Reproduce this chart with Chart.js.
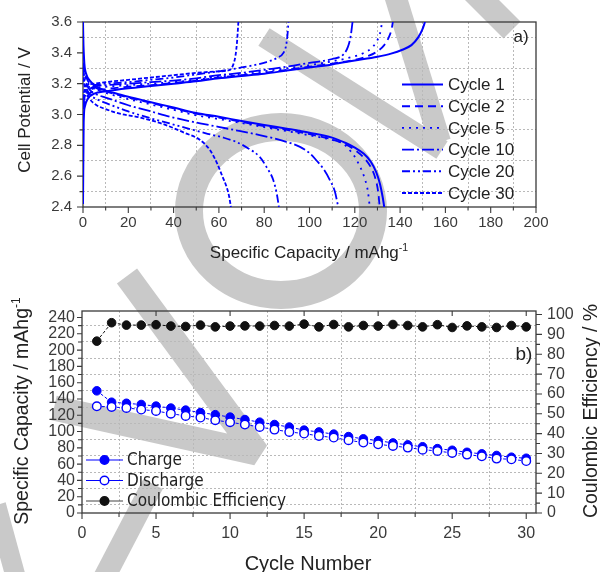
<!DOCTYPE html>
<html><head><meta charset="utf-8">
<script src="https://cdn.jsdelivr.net/npm/chart.js@4.4.0/dist/chart.umd.min.js"></script>
<style>
html,body{margin:0;padding:0;background:#fff;}
#wrap{position:relative;width:600px;height:572px;overflow:hidden;background:#fff;}
#ca{position:absolute;left:0;top:0;}
#cb{position:absolute;left:0;top:290px;}
</style></head><body>
<div id="wrap"><canvas id="ca" width="600" height="290"></canvas><canvas id="cb" width="600" height="282"></canvas></div>
<script>
// ---------- Panel a data: [specific capacity (mAh/g), cell potential (V)] ----------
const cyc1Charge = [[0,2.42],[0.3,2.95],[0.8,3.05],[2,3.1],[5,3.135],[10,3.15],[20,3.17],[30,3.185],[40,3.2],[50,3.215],[60,3.235],[70,3.25],[80,3.265],[90,3.285],[100,3.305],[110,3.325],[120,3.35],[130,3.375],[136,3.395],[141,3.42],[145,3.45],[148,3.5],[149.8,3.55],[151,3.6]];
const cyc1Discharge = [[0,3.6],[0.2,3.45],[0.6,3.33],[1.5,3.26],[3,3.22],[6,3.18],[10,3.155],[15,3.135],[20,3.115],[30,3.08],[40,3.045],[50,3.01],[60,2.985],[70,2.958],[80,2.932],[90,2.908],[100,2.882],[110,2.85],[116,2.815],[120,2.785],[124,2.745],[127,2.695],[129.5,2.625],[131.2,2.545],[132.3,2.465],[133,2.4]];
const cyc2Charge = [[0,2.95],[0.5,3.05],[2,3.12],[5,3.15],[10,3.165],[20,3.18],[30,3.19],[40,3.205],[50,3.22],[60,3.24],[70,3.255],[80,3.27],[90,3.29],[100,3.31],[110,3.33],[120,3.355],[126,3.38],[130,3.41],[133,3.45],[135,3.5],[136.2,3.55],[136.8,3.6]];
const cyc2Discharge = [[0,3.42],[0.5,3.3],[1.5,3.24],[3,3.2],[6,3.17],[10,3.15],[20,3.11],[30,3.075],[40,3.04],[50,3.005],[60,2.98],[70,2.952],[80,2.925],[90,2.9],[100,2.872],[110,2.838],[116,2.805],[120,2.77],[124,2.72],[127,2.66],[129,2.59],[130.3,2.5],[131,2.4]];
const cyc5Charge = [[0,3.0],[0.5,3.08],[2,3.14],[5,3.17],[10,3.18],[20,3.19],[30,3.2],[40,3.21],[50,3.225],[60,3.245],[70,3.26],[80,3.28],[90,3.3],[100,3.32],[110,3.345],[118,3.37],[124,3.4],[128,3.44],[130.5,3.5],[131.5,3.55],[132,3.6]];
const cyc5Discharge = [[0,3.38],[0.5,3.28],[1.5,3.22],[3,3.19],[6,3.16],[10,3.14],[20,3.1],[30,3.065],[40,3.03],[50,2.995],[60,2.97],[70,2.945],[80,2.918],[90,2.892],[100,2.865],[110,2.835],[115,2.81],[118,2.765],[121,2.7],[124.5,2.58],[125.8,2.5],[126.6,2.4]];
const cyc10Charge = [[0,3.05],[0.5,3.1],[2,3.15],[5,3.18],[10,3.19],[20,3.2],[30,3.21],[40,3.22],[50,3.235],[60,3.255],[70,3.27],[80,3.29],[90,3.31],[100,3.335],[110,3.36],[115,3.39],[117,3.44],[118.2,3.51],[119,3.6]];
const cyc10Discharge = [[0,3.33],[0.5,3.25],[1.5,3.2],[3,3.16],[6,3.13],[10,3.11],[20,3.06],[30,3.02],[40,2.98],[51.7,2.943],[65,2.905],[78,2.867],[88,2.83],[95.8,2.79],[100,2.75],[103.2,2.7],[106.5,2.64],[109,2.575],[111.2,2.5],[112.7,2.4]];
const cyc20Charge = [[0,3.08],[0.5,3.13],[2,3.17],[5,3.19],[10,3.2],[20,3.21],[30,3.225],[40,3.24],[50,3.26],[60,3.28],[70,3.305],[81,3.34],[86,3.37],[88.5,3.4],[89.7,3.45],[90.3,3.52],[90.7,3.6]];
const cyc20Discharge = [[0,3.3],[0.5,3.22],[1.5,3.17],[3,3.13],[6,3.1],[10,3.075],[20,3.02],[30,2.975],[40,2.935],[48.7,2.9],[55,2.875],[62,2.85],[68,2.82],[73,2.78],[78,2.725],[81,2.66],[84,2.575],[85.5,2.49],[86.5,2.4]];
const cyc30Charge = [[0,3.1],[0.5,3.15],[2,3.19],[5,3.2],[10,3.21],[20,3.225],[30,3.24],[40,3.255],[50,3.27],[60,3.28],[64.9,3.29],[66.5,3.33],[67.3,3.38],[68,3.47],[68.6,3.6]];
const cyc30Discharge = [[0,3.28],[0.5,3.2],[1.5,3.14],[3,3.1],[6,3.06],[10,3.035],[15,3.01],[25.2,2.98],[35,2.94],[45,2.88],[51.7,2.835],[56,2.77],[59,2.69],[61.5,2.6],[63.4,2.53],[64.5,2.47],[65.3,2.4]];
const cycleLabels = ['Cycle 1','Cycle 2','Cycle 5','Cycle 10','Cycle 20','Cycle 30'];

// ---------- Panel b data ----------
const cycleNumbers = [1,2,3,4,5,6,7,8,9,10,11,12,13,14,15,16,17,18,19,20,21,22,23,24,25,26,27,28,29,30];
const chargeCapacity = [150,136,134.7,133.2,131.2,128.8,126.3,123.3,120.7,117.7,114.7,111.5,108.6,105.5,101.7,99.5,96.8,93.8,91,88.8,86,83.6,81.3,79,77,74.5,72.6,70.6,68.5,67.2];
const dischargeCapacity = [131,130.2,129,127,125.3,122,119.2,117.2,113.9,111.4,108.6,105.6,102.4,99.5,97.5,94.6,92.6,89.3,86.5,84.3,82.3,80.3,77.8,76.1,73.7,71.7,69.6,66.8,65.9,63.8];
const coulombicEff = [86.6,95.9,94.7,94.7,94.9,94.2,94.0,94.7,93.8,94.2,94.3,94.2,94.5,94.2,95.2,93.8,95.0,93.8,94.5,94.2,95.0,94.5,93.8,94.9,93.5,94.3,93.8,93.5,94.5,93.8];
const legendB = ['Charge','Discharge','Coulombic Efficiency'];

// ---------- styles ----------
const FONT = "'Liberation Sans', Arial, Helvetica, sans-serif";
const NARROW = "'Liberation Sans Narrow', 'Arial Narrow', 'DejaVu Sans Condensed', 'Liberation Sans', sans-serif";
const AX = '#3a3a3a';
const TXT = '#222222';
const BLUE = '#0000ff';
const GRID = '#b9b9b9';
const dashes = [[], [8,5], [2,5], [12,3,2,3], [8,3,2,3,2,3], [4,2]];
const WM = '#c9c9c9';

function xy(arr){ return arr.map(p => ({x:p[0], y:p[1]})); }
function xyb(ys){ return ys.map((v,i) => ({x:cycleNumbers[i], y:v})); }

function watermark(ctx, offY){
  ctx.save();
  ctx.translate(0, -offY);
  ctx.strokeStyle = WM;
  ctx.lineCap = 'butt';
  ctx.lineJoin = 'bevel';
  // ring
  ctx.lineWidth = 28;
  ctx.beginPath(); ctx.ellipse(281, 211, 92, 84, 0, 0, Math.PI*2); ctx.stroke();
  // upper diagonal strokes
  ctx.lineWidth = 21;
  ctx.beginPath(); ctx.moveTo(264,37); ctx.lineTo(442,150); ctx.stroke();
  ctx.lineWidth = 22;
  ctx.beginPath(); ctx.moveTo(395,-5); ctx.lineTo(440,142); ctx.stroke();
  ctx.lineWidth = 24;
  ctx.beginPath(); ctx.moveTo(470,-12); ctx.lineTo(512,30); ctx.stroke();
  // lower V
  ctx.lineWidth = 25;
  ctx.beginPath(); ctx.moveTo(127,276); ctx.lineTo(257,453); ctx.lineTo(54,408); ctx.stroke();
  ctx.lineWidth = 22;
  ctx.beginPath(); ctx.moveTo(153,484); ctx.lineTo(104,578); ctx.stroke();
  ctx.lineWidth = 20;
  ctx.beginPath(); ctx.moveTo(-4,505); ctx.lineTo(16,578); ctx.stroke();
  ctx.restore();
}

function textSup(ctx, main, sup, x, y, size, rot, font){
  ctx.save();
  ctx.translate(x, y);
  if (rot) ctx.rotate(rot);
  ctx.fillStyle = TXT;
  ctx.textBaseline = 'alphabetic';
  ctx.textAlign = 'left';
  ctx.font = size + 'px ' + font;
  const w1 = ctx.measureText(main).width;
  ctx.font = (size*0.62) + 'px ' + font;
  const w2 = sup ? ctx.measureText(sup).width : 0;
  const x0 = -(w1 + w2)/2;
  ctx.font = size + 'px ' + font;
  ctx.fillText(main, x0, size*0.36);
  if (sup){
    ctx.font = (size*0.62) + 'px ' + font;
    ctx.fillText(sup, x0 + w1, size*0.36 - size*0.40);
  }
  ctx.restore();
}

function tickMarks(ctx, scale, from, to, step, isMajor, side, majLen, minLen){
  const n = Math.round((to-from)/step);
  ctx.beginPath();
  for (let i=0;i<=n;i++){
    const v = from + i*step;
    const len = isMajor(v) ? majLen : minLen;
    if (len <= 0) continue;
    const p = scale.getPixelForValue(v);
    if (side === 'bottom'){ ctx.moveTo(p, scale.top); ctx.lineTo(p, scale.top + len); }
    else if (side === 'top'){ ctx.moveTo(p, scale.chart.chartArea.top); ctx.lineTo(p, scale.chart.chartArea.top + len); }
    else if (side === 'left'){ ctx.moveTo(scale.right, p); ctx.lineTo(scale.right - len, p); }
    else if (side === 'right'){ ctx.moveTo(scale.left, p); ctx.lineTo(scale.left + len, p); }
  }
  ctx.stroke();
}

const near = (v, m) => Math.abs(v/m - Math.round(v/m)) < 1e-6;

// ---------------- Chart a ----------------
const decoA = {
  id: 'decoA',
  beforeDraw(chart){
    const ctx = chart.ctx;
    ctx.save(); ctx.fillStyle = '#fff'; ctx.fillRect(0,0,chart.width,chart.height); ctx.restore();
    watermark(ctx, 0);
  },
  beforeDatasetsDraw(chart){
    const ctx = chart.ctx, a = chart.chartArea;
    ctx.save();
    ctx.strokeStyle = AX; ctx.lineWidth = 1.3;
    ctx.strokeRect(a.left, a.top, a.right-a.left, a.bottom-a.top);
    ctx.lineWidth = 1.1;
    tickMarks(ctx, chart.scales.x, 0, 200, 10, v=>near(v,20), 'bottom', 6, 3.5);
    tickMarks(ctx, chart.scales.y, 2.4, 3.6, 0.1, v=>near(v,0.2), 'left', 6, 3.5);
    ctx.restore();
  },
  afterDraw(chart){
    const ctx = chart.ctx;
    textSup(ctx, 'Specific Capacity / mAhg', '-1', 309, 252, 17, 0, FONT);
    textSup(ctx, 'Cell Potential / V', '', 24, 110, 17, -Math.PI/2, FONT);
    // panel label
    ctx.save();
    ctx.fillStyle = TXT; ctx.font = '17px ' + FONT; ctx.textBaseline = 'middle'; ctx.textAlign = 'center';
    ctx.fillText('a)', 521, 37);
    // legend
    const rows = [84.5, 106.2, 127.9, 149.6, 171.3, 193];
    ctx.textAlign = 'left';
    cycleLabels.forEach((lab, i) => {
      ctx.strokeStyle = BLUE; ctx.lineWidth = 1.9; ctx.setLineDash(dashes[i]);
      ctx.beginPath(); ctx.moveTo(402, rows[i]); ctx.lineTo(443, rows[i]); ctx.stroke();
      ctx.setLineDash([]);
      ctx.fillStyle = TXT; ctx.font = '17px ' + FONT;
      ctx.fillText(lab, 448, rows[i] + 1);
    });
    ctx.restore();
  }
};

const setsA = [
  [cyc1Charge, cyc1Discharge], [cyc2Charge, cyc2Discharge], [cyc5Charge, cyc5Discharge],
  [cyc10Charge, cyc10Discharge], [cyc20Charge, cyc20Discharge], [cyc30Charge, cyc30Discharge]
];
const datasetsA = [];
setsA.forEach((pair, i) => {
  pair.forEach((arr, j) => {
    datasetsA.push({
      label: cycleLabels[i] + (j ? ' discharge' : ' charge'),
      data: xy(arr),
      borderColor: BLUE,
      borderWidth: i === 0 ? 2 : 1.8,
      borderDash: dashes[i],
      pointRadius: 0,
      fill: false,
      cubicInterpolationMode: 'monotone'
    });
  });
});

new Chart(document.getElementById('ca'), {
  type: 'line',
  data: { datasets: datasetsA },
  plugins: [decoA],
  options: {
    responsive: false, animation: false,
    layout: { padding: { left: 0, right: 64, top: 22, bottom: 0 } },
    plugins: { legend: { display: false }, tooltip: { enabled: false } },
    scales: {
      x: {
        type: 'linear', min: 0, max: 200,
        afterFit(s){ s.height = 83; },
        ticks: { stepSize: 10, autoSkip: false, maxRotation: 0, includeBounds: false, padding: 7, color: AX,
          font: { family: FONT, size: 15 }, callback: v => near(v,20) ? String(Math.round(v)) : '' },
        grid: { drawTicks: false, lineWidth: 1, color: c => (c.tick && !near(c.tick.value,20)) ? GRID : 'rgba(0,0,0,0)' },
        border: { display: false, dash: [2,2] }
      },
      y: {
        type: 'linear', min: 2.4, max: 3.6,
        afterFit(s){ s.width = 83; },
        ticks: { stepSize: 0.1, autoSkip: false, includeBounds: false, padding: 11, color: AX,
          font: { family: FONT, size: 15 }, callback: v => near(v,0.2) ? v.toFixed(1) : '' },
        grid: { drawTicks: false, lineWidth: 1, color: c => (c.tick && !near(c.tick.value,0.2)) ? GRID : 'rgba(0,0,0,0)' },
        border: { display: false, dash: [2,2] }
      }
    }
  }
});

// ---------------- Chart b ----------------
const decoB = {
  id: 'decoB',
  beforeDraw(chart){
    const ctx = chart.ctx;
    ctx.save(); ctx.fillStyle = '#fff'; ctx.fillRect(0,0,chart.width,chart.height); ctx.restore();
    watermark(ctx, 290);
  },
  beforeDatasetsDraw(chart){
    const ctx = chart.ctx, a = chart.chartArea;
    ctx.save();
    ctx.strokeStyle = AX; ctx.lineWidth = 1.3;
    ctx.strokeRect(a.left, a.top, a.right-a.left, a.bottom-a.top);
    ctx.lineWidth = 1.1;
    tickMarks(ctx, chart.scales.x, 0, 30, 2.5, v=>near(v,5), 'bottom', 6, 4);
    tickMarks(ctx, chart.scales.x, 5, 30, 5, v=>true, 'top', 5, 0);
    tickMarks(ctx, chart.scales.y, 0, 240, 10, v=>near(v,20), 'left', 5, 4);
    tickMarks(ctx, chart.scales.y2, 0, 100, 5, v=>near(v,10), 'right', 6, 4);
    ctx.restore();
  },
  afterDraw(chart){
    const ctx = chart.ctx;
    textSup(ctx, 'Specific Capacity / mAhg', '-1', 21, 121, 19.5, -Math.PI/2, FONT);
    textSup(ctx, 'Coulombic Efficiency / %', '', 590, 121, 19.5, -Math.PI/2, FONT);
    textSup(ctx, 'Cycle Number', '', 308, 273, 20, 0, FONT);
    ctx.save();
    ctx.fillStyle = TXT; ctx.font = '19px ' + FONT; ctx.textBaseline = 'middle'; ctx.textAlign = 'center';
    ctx.fillText('b)', 524, 65);
    // legend
    const rows = [170, 190.5, 211];
    const cols = [BLUE, BLUE, '#111111'];
    const fills = [BLUE, '#ffffff', '#111111'];
    ctx.textAlign = 'left';
    legendB.forEach((lab, i) => {
      ctx.strokeStyle = i === 2 ? '#444' : cols[i]; ctx.lineWidth = 1.2;
      ctx.beginPath(); ctx.moveTo(86, rows[i]); ctx.lineTo(123, rows[i]); ctx.stroke();
      ctx.beginPath(); ctx.arc(104.5, rows[i], 4.3, 0, Math.PI*2);
      ctx.fillStyle = fills[i]; ctx.fill();
      ctx.strokeStyle = cols[i]; ctx.lineWidth = 1.4; ctx.stroke();
      ctx.fillStyle = TXT; ctx.font = '17px ' + NARROW;
      ctx.fillText(lab, 127, rows[i] + 1);
    });
    ctx.restore();
  }
};

new Chart(document.getElementById('cb'), {
  type: 'line',
  data: {
    datasets: [
      { label: 'Discharge', data: xyb(dischargeCapacity), yAxisID: 'y', order: 0,
        borderColor: BLUE, borderWidth: 1, borderDash: [3,2],
        pointRadius: 4.3, pointBackgroundColor: '#ffffff', pointBorderColor: BLUE, pointBorderWidth: 1.4, fill: false },
      { label: 'Charge', data: xyb(chargeCapacity), yAxisID: 'y', order: 1,
        borderColor: BLUE, borderWidth: 1, borderDash: [3,2],
        pointRadius: 4.3, pointBackgroundColor: BLUE, pointBorderColor: BLUE, pointBorderWidth: 1, fill: false },
      { label: 'Coulombic Efficiency', data: xyb(coulombicEff), yAxisID: 'y2', order: 2,
        borderColor: '#111111', borderWidth: 1, borderDash: [3,2],
        pointRadius: 4.3, pointBackgroundColor: '#111111', pointBorderColor: '#111111', pointBorderWidth: 1, fill: false }
    ]
  },
  plugins: [decoB],
  options: {
    responsive: false, animation: false,
    layout: { padding: { left: 0, right: 0, top: 21, bottom: 0 } },
    plugins: { legend: { display: false }, tooltip: { enabled: false } },
    scales: {
      x: {
        type: 'linear', min: 0, max: 30.66,
        afterFit(s){ s.height = 59; },
        ticks: { stepSize: 2.5, autoSkip: false, maxRotation: 0, includeBounds: false, padding: 11, color: AX,
          font: { family: FONT, size: 16 }, callback: v => near(v,5) ? String(Math.round(v)) : '' },
        grid: { drawTicks: false, lineWidth: 1, color: c => (c.tick && !near(c.tick.value,5)) ? GRID : 'rgba(0,0,0,0)' },
        border: { display: false, dash: [2,2] }
      },
      y: {
        type: 'linear', position: 'left', min: 0, max: 248,
        afterFit(s){ s.width = 82; },
        ticks: { stepSize: 10, autoSkip: false, includeBounds: false, padding: 7, color: AX,
          font: { family: FONT, size: 16 }, callback: v => near(v,20) ? String(Math.round(v)) : '' },
        grid: { drawTicks: false, lineWidth: 1, color: c => (c.tick && !near(c.tick.value,20)) ? GRID : 'rgba(0,0,0,0)' },
        border: { display: false, dash: [2,2] }
      },
      y2: {
        type: 'linear', position: 'right', min: 0, max: 101.8,
        afterFit(s){ s.width = 64; },
        ticks: { stepSize: 5, autoSkip: false, includeBounds: false, padding: 11, color: AX,
          font: { family: FONT, size: 16 }, callback: v => near(v,10) ? String(Math.round(v)) : '' },
        grid: { display: false, drawTicks: false },
        border: { display: false }
      }
    }
  }
});
</script>
</body></html>
